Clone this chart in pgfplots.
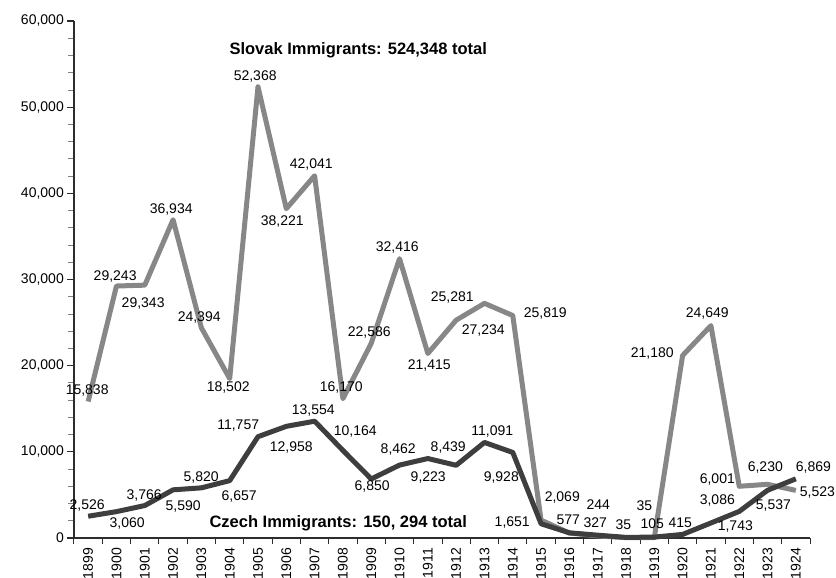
\documentclass[border=0pt]{standalone}
\usepackage{pgfplots}
\pgfplotsset{compat=1.18}
\usepackage{fontspec}
\setmainfont{Liberation Sans}
\definecolor{slovak}{RGB}{135,135,135}
\definecolor{czech}{RGB}{62,62,62}
\definecolor{axisc}{RGB}{45,45,45}
\newcommand{\lab}{\fontsize{14}{16}\selectfont}
\newcommand{\ttl}{\fontsize{16.5}{18}\selectfont\bfseries}
\begin{document}
\begin{tikzpicture}
\begin{axis}[
  at={(0,0)}, anchor=south west,
  scale only axis, width=736pt, height=517pt,
  xmin=-0.5, xmax=25.5, ymin=0, ymax=60000,
  axis lines=left,
  axis line style={-, line width=1.3pt, color=axisc},
  clip=false,
  tick align=outside,
  xtick={0,1,2,3,4,5,6,7,8,9,10,11,12,13,14,15,16,17,18,19,20,21,22,23,24,25},
  xticklabels={1899,1900,1901,1902,1903,1904,1905,1906,1907,1908,1909,1910,1911,1912,1913,1914,1915,1916,1917,1918,1919,1920,1921,1922,1923,1924},
  major x tick style={draw=none},
  minor xtick={-0.5,0.5,...,25.5},
  minor x tick style={draw=axisc, line width=1pt},
  minor tick length=6pt,
  major tick length=7pt,
  x tick label style={rotate=90, anchor=east, font=\lab, inner sep=1pt},
  xticklabel shift=2pt,
  ytick={0,10000,20000,30000,40000,50000,60000},
  yticklabels={0,{10,000},{20,000},{30,000},{40,000},{50,000},{60,000}},
  minor y tick num=4,
  major y tick style={draw=axisc, line width=1.2pt},
  minor y tick style={draw=axisc!60, line width=0.8pt},
  scaled y ticks=false,
  y tick label style={font=\lab, inner sep=1pt},
  yticklabel shift=2pt,
]
% Slovak immigrants
\addplot[color=slovak, line width=5pt, line join=round, mark=none] coordinates {
(0,15838) (1,29243) (2,29343) (3,36934) (4,24394) (5,18502) (6,52368) (7,38221)
(8,42041) (9,16170) (10,22586) (11,32416) (12,21415) (13,25281) (14,27234) (15,25819)
(16,2069) (17,577) (18,244) (19,35) (20,35) (21,21180) (22,24649) (23,6001) (24,6230) (25,5523)
};
% Czech immigrants
\addplot[color=czech, line width=5pt, line join=round, mark=none] coordinates {
(0,2526) (1,3060) (2,3766) (3,5590) (4,5820) (5,6657) (6,11757) (7,12958)
(8,13554) (9,10164) (10,6850) (11,8462) (12,9223) (13,8439) (14,11091) (15,9928)
(16,1651) (17,600) (18,327) (19,70) (20,105) (21,415) (22,1743) (23,3086) (24,5537) (25,6869)
};
% Slovak labels
\node[font=\lab] at (axis cs:-0.035,17168) {15,838};
\node[font=\lab] at (axis cs:0.954,30392) {29,243};
\node[font=\lab] at (axis cs:1.943,27260) {29,343};
\node[font=\lab] at (axis cs:2.933,38164) {36,934};
\node[font=\lab] at (axis cs:3.922,25636) {24,394};
\node[font=\lab] at (axis cs:4.947,17516) {18,502};
\node[font=\lab] at (axis cs:5.901,53592) {52,368};
\node[font=\lab] at (axis cs:6.855,36772) {38,221};
\node[font=\lab] at (axis cs:7.880,43384) {42,041};
\node[font=\lab] at (axis cs:8.940,17516) {16,170};
\node[font=\lab] at (axis cs:9.929,23896) {22,586};
\node[font=\lab] at (axis cs:10.919,33756) {32,416};
\node[font=\lab] at (axis cs:12.049,20068) {21,415};
\node[font=\lab] at (axis cs:12.862,27956) {25,281};
\node[font=\lab] at (axis cs:13.958,24128) {27,234};
\node[font=\lab] at (axis cs:16.148,26100) {25,819};
\node[font=\lab] at (axis cs:16.749,4756) {2,069};
\node[font=\lab] at (axis cs:16.961,2088) {577};
\node[font=\lab] at (axis cs:18.021,3828) {244};
\node[font=\lab] at (axis cs:18.905,1508) {35};
\node[font=\lab] at (axis cs:19.647,3712) {35};
\node[font=\lab] at (axis cs:19.929,21460) {21,180};
\node[font=\lab] at (axis cs:21.873,26100) {24,649};
\node[font=\lab] at (axis cs:22.226,6844) {6,001};
\node[font=\lab] at (axis cs:23.922,8236) {6,230};
\node[font=\lab] at (axis cs:25.760,5336) {5,523};
% Czech labels
\node[font=\lab] at (axis cs:-0.035,3828) {2,526};
\node[font=\lab] at (axis cs:1.378,1624) {3,060};
\node[font=\lab] at (axis cs:1.979,4988) {3,766};
\node[font=\lab] at (axis cs:3.357,3712) {5,590};
\node[font=\lab] at (axis cs:3.993,7076) {5,820};
\node[font=\lab] at (axis cs:5.336,4872) {6,657};
\node[font=\lab] at (axis cs:5.300,12992) {11,757};
\node[font=\lab] at (axis cs:7.173,10556) {12,958};
\node[font=\lab] at (axis cs:7.951,14848) {13,554};
\node[font=\lab] at (axis cs:9.435,12412) {10,164};
\node[font=\lab] at (axis cs:10.035,6032) {6,850};
\node[font=\lab] at (axis cs:10.954,10324) {8,462};
\node[font=\lab] at (axis cs:12.014,7076) {9,223};
\node[font=\lab] at (axis cs:12.721,10556) {8,439};
\node[font=\lab] at (axis cs:14.276,12412) {11,091};
\node[font=\lab] at (axis cs:14.594,7076) {9,928};
\node[font=\lab] at (axis cs:14.982,1740) {1,651};
\node[font=\lab] at (axis cs:17.915,1740) {327};
\node[font=\lab] at (axis cs:19.929,1624) {105};
\node[font=\lab] at (axis cs:20.919,1740) {415};
\node[font=\lab] at (axis cs:22.226,4408) {3,086};
\node[font=\lab] at (axis cs:22.862,1276) {1,743};
\node[font=\lab] at (axis cs:24.205,3828) {5,537};
\node[font=\lab] at (axis cs:25.618,8236) {6,869};
% Titles
\node[font=\ttl] at (axis cs:9.541,56608) {Slovak Immigrants: 524,348 total};
\node[font=\ttl] at (axis cs:8.834,1740) {Czech Immigrants: 150, 294 total};
\end{axis}
\pgfresetboundingbox
\path (-74pt,-40pt) rectangle (762pt,538pt);
\end{tikzpicture}
\end{document}
